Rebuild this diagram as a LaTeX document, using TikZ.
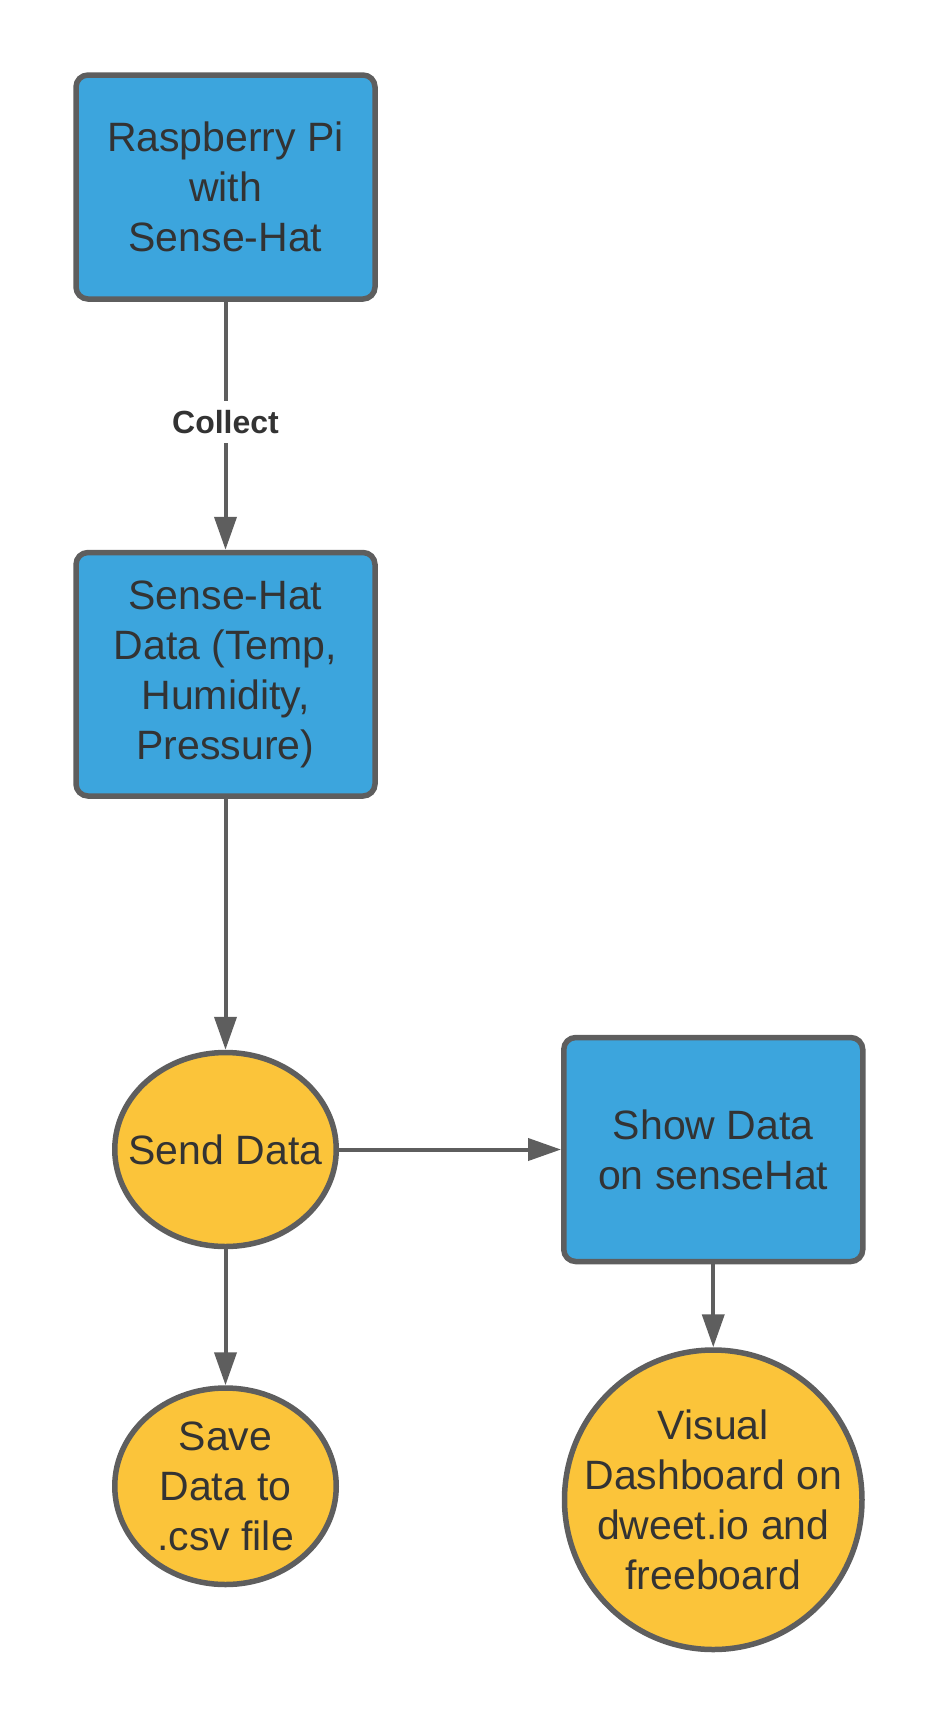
\documentclass[tikz,border=0pt]{standalone}
\usepackage{fontspec}
\setmainfont{Liberation Sans}
\usepackage{tikz}
\usetikzlibrary{arrows.meta,shapes,positioning}

\definecolor{boxblue}{HTML}{3CA5DD}
\definecolor{endyellow}{HTML}{FBC43A}
\definecolor{edgegray}{HTML}{5E5E5E}
\definecolor{textgray}{HTML}{333333}

\begin{document}
\begin{tikzpicture}[
  x=1pt, y=-1pt,
  font=\fontsize{41}{50}\selectfont,       % big text everywhere
  every node/.style = {text=textgray},
  process/.style = {rectangle,
                    draw=edgegray,
                    line width=5.5pt,
                    fill=boxblue,
                    rounded corners=12pt,
                    align=center,
                    minimum width=299pt,
                    minimum height=224pt,
                    inner sep=0pt},
  output/.style  = {ellipse,
                    draw=edgegray,
                    line width=5.5pt,
                    fill=endyellow,
                    inner sep=0pt},
  arrow/.style   = {-{Triangle[length=33pt,width=22pt]}, draw=edgegray, line width=4pt}
]
\useasboundingbox (0,0) rectangle (938,1725);

\node[process] (rpi) at (225.5,187) {Raspberry Pi\\with\\Sense-Hat};
\node[process, minimum height=243.5pt, below=248pt of rpi] (data) {Sense-Hat\\Data (Temp,\\Humidity,\\Pressure)};

\node[output, minimum width=221.5pt, minimum height=194pt, below=251pt of data,
      label={center:Send Data}] (send) {};
\node[output, minimum width=221.5pt, minimum height=196.5pt, below=136pt of send,
      label={[align=center]center:{Save\\Data to\\.csv file}}] (save) {};

\node[process, right=222pt of send] (show) {Show Data\\on senseHat};
\node[output, minimum width=297.5pt, minimum height=299.5pt, below=83pt of show,
      label={[align=center]center:{Visual\\Dashboard on\\dweet.io and\\freeboard}}] (dash) {};

\draw[arrow] (rpi)  -- node[pos=0.484, fill=white, inner xsep=4pt, inner ysep=9pt,
                            font=\fontsize{32}{38}\bfseries\selectfont] {Collect} (data);
\draw[arrow] (data) -- (send);
\draw[arrow] (send) -- (show);
\draw[arrow] (send) -- (save);
\draw[arrow] (show) -- (dash);

\end{tikzpicture}
\end{document}
